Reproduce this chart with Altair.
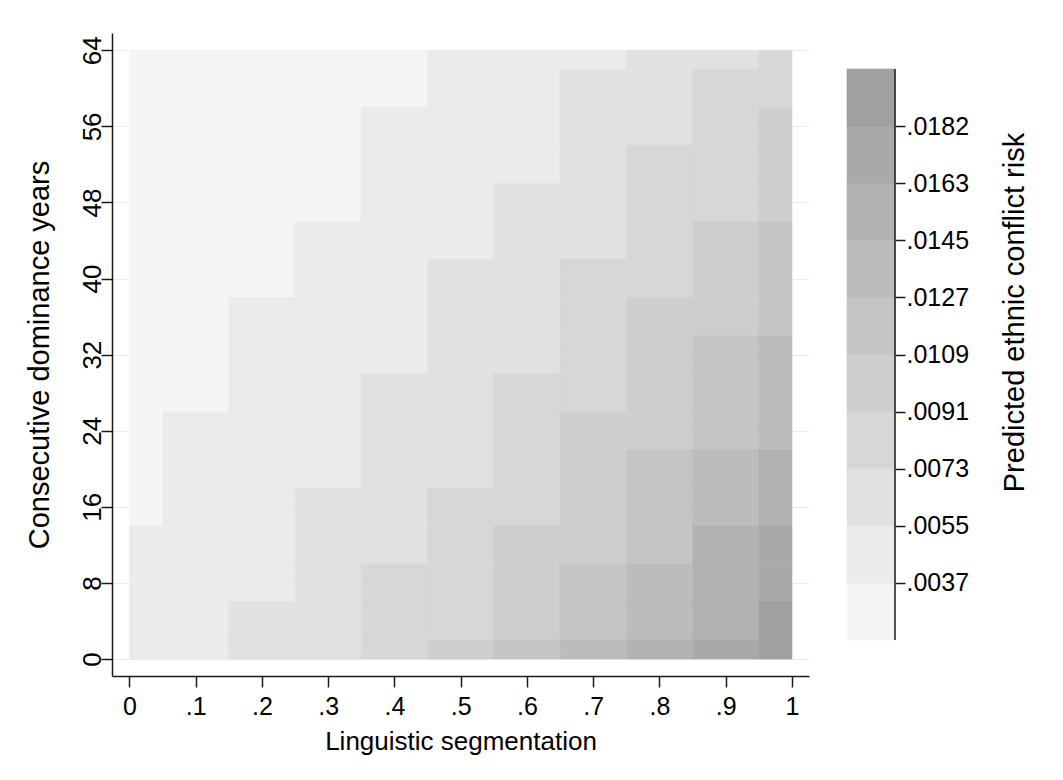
import json
import altair as alt
import pandas as pd

# ---- data ----
x_vals = [0.0, 0.1, 0.2, 0.3, 0.4, 0.5, 0.6, 0.7, 0.8, 0.9, 1.0]
y_vals = [64, 60, 56, 52, 48, 44, 40, 36, 32, 28, 24, 20, 16, 12, 8, 4, 0]
# contour band (1 = lowest risk ... 10 = highest) for each row (y) and column (x)
levels = [
    [1, 1, 1, 1, 1, 2, 2, 2, 3, 3, 4],   # 64
    [1, 1, 1, 1, 1, 2, 2, 3, 3, 4, 4],   # 60
    [1, 1, 1, 1, 2, 2, 2, 3, 3, 4, 5],   # 56
    [1, 1, 1, 1, 2, 2, 2, 3, 4, 4, 5],   # 52
    [1, 1, 1, 1, 2, 2, 3, 3, 4, 4, 5],   # 48
    [1, 1, 1, 2, 2, 2, 3, 3, 4, 5, 6],   # 44
    [1, 1, 1, 2, 2, 3, 3, 4, 4, 5, 6],   # 40
    [1, 1, 2, 2, 2, 3, 3, 4, 5, 5, 6],   # 36
    [1, 1, 2, 2, 2, 3, 3, 4, 5, 6, 7],   # 32
    [1, 1, 2, 2, 3, 3, 4, 4, 5, 6, 7],   # 28
    [1, 2, 2, 2, 3, 3, 4, 5, 5, 6, 7],   # 24
    [1, 2, 2, 2, 3, 3, 4, 5, 6, 7, 8],   # 20
    [1, 2, 2, 3, 3, 4, 4, 5, 6, 7, 8],   # 16
    [2, 2, 2, 3, 3, 4, 5, 5, 6, 8, 9],   # 12
    [2, 2, 2, 3, 4, 4, 5, 6, 7, 8, 9],   # 8
    [2, 2, 3, 3, 4, 4, 5, 6, 7, 8, 10],  # 4
    [2, 2, 3, 3, 4, 5, 6, 7, 8, 9, 10],  # 0
]
band_ids = [1, 2, 3, 4, 5, 6, 7, 8, 9, 10]
band_cuts = [0.00185, 0.00366, 0.00547, 0.00729, 0.00910, 0.01091,
             0.01272, 0.01453, 0.01634, 0.01816, 0.01997]
legend_tick_values = band_cuts[1:-1]
legend_tick_labels = [".0037", ".0055", ".0073", ".0091", ".0109",
                      ".0127", ".0145", ".0163", ".0182"]
x_tick_labels = ["0", ".1", ".2", ".3", ".4", ".5", ".6", ".7", ".8", ".9", "1"]
y_ticks = [0, 8, 16, 24, 32, 40, 48, 56, 64]

# ---- style ----
grays = ["#f5f5f5", "#ebebeb", "#e1e1e1", "#d7d7d7", "#cecece",
         "#c5c5c5", "#bcbcbc", "#b2b2b2", "#a9a9a9", "#a0a0a0"]
FONT = "Liberation Sans"
INK = "#1a1a1a"
MAIN_W, MAIN_H = 697, 643
LEG_W = 48
NO_FRAME = alt.ViewBackground(stroke="transparent", strokeWidth=0)

rows = []
for yi, y in enumerate(y_vals):
    for xi, x in enumerate(x_vals):
        rows.append({"x": x, "y": y, "level": levels[yi][xi]})
df = pd.DataFrame(rows)

color_scale = alt.Scale(domain=band_ids, range=grays)

x_expr = f"{json.dumps(x_tick_labels)}[indexof({json.dumps(x_vals)}, datum.value)]"
leg_expr = f"{json.dumps(legend_tick_labels)}[indexof({json.dumps(legend_tick_values)}, datum.value)]"

heat = (
    alt.Chart(df)
    .transform_calculate(
        x0="max(datum.x - 0.05, 0)",
        x1="min(datum.x + 0.05, 1)",
        y0="max(datum.y - 2, 0)",
        y1="min(datum.y + 2, 64)",
    )
    .mark_rect(strokeWidth=0.6)
    .encode(
        x=alt.X(
            "x0:Q",
            scale=alt.Scale(domain=[-0.0264, 1.0257], nice=False, zero=False),
            axis=alt.Axis(
                values=x_vals, labelExpr=x_expr, grid=False,
                tickSize=11, tickWidth=1.5, tickColor=INK,
                domainColor=INK, domainWidth=1.5,
                labelFontSize=25, labelPadding=7, labelColor="black",
                labelFont=FONT,
                title="Linguistic segmentation", titleFontSize=26,
                titleFont=FONT, titleFontWeight="normal", titleColor="black",
                titleBaseline="alphabetic", titleY=73,
            ),
        ),
        x2="x1:Q",
        y=alt.Y(
            "y0:Q",
            scale=alt.Scale(domain=[-1.79, 65.82], nice=False, zero=False),
            axis=alt.Axis(
                values=y_ticks, grid=True, gridColor="#ebebeb", gridWidth=1.2,
                tickSize=11, tickWidth=1.5, tickColor=INK,
                domainColor=INK, domainWidth=1.5,
                labelFontSize=26, labelAngle=270, labelAlign="center",
                labelBaseline="alphabetic", labelPadding=1,
                labelColor="black", labelFont=FONT,
                title="Consecutive dominance years", titleFontSize=29,
                titleFont=FONT, titleFontWeight="normal", titleColor="black",
                titleAngle=270, titleAlign="center", titleBaseline="alphabetic",
                titleX=-64, titleY=MAIN_H / 2,
            ),
        ),
        y2="y1:Q",
        color=alt.Color("level:O", scale=color_scale, legend=None),
        stroke=alt.Stroke("level:O", scale=color_scale, legend=None),
    )
    .properties(width=MAIN_W, height=MAIN_H, view=NO_FRAME)
)

# colour bar (legend) built from the same bands
leg_df = pd.DataFrame({
    "lo": band_cuts[:-1], "hi": band_cuts[1:], "level": band_ids,
    "x0": [0] * len(band_ids), "x1": [1] * len(band_ids),
})
px_per_unit = 571 / (band_cuts[-1] - band_cuts[0])
leg_domain = [band_cuts[0] - 36 / px_per_unit, band_cuts[-1] + 36 / px_per_unit]

leg_axis = alt.Axis(
    orient="right", values=legend_tick_values, labelExpr=leg_expr,
    domain=False, grid=False, tickSize=10, tickWidth=1.5, tickColor=INK,
    labelFontSize=25, labelPadding=1, labelColor="black", labelFont=FONT,
    labelBaseline="middle",
    title="Predicted ethnic conflict risk", titleFontSize=29,
    titleFont=FONT, titleFontWeight="normal", titleColor="black",
    titleAngle=270, titleAlign="center", titleBaseline="alphabetic",
    titleX=128, titleY=279,
)

bar = alt.Chart(leg_df).mark_rect(strokeWidth=0.6).encode(
    x=alt.X("x0:Q", scale=alt.Scale(domain=[0, 1], nice=False), axis=None),
    x2="x1:Q",
    y=alt.Y("lo:Q", scale=alt.Scale(domain=leg_domain, nice=False, zero=False),
            axis=leg_axis),
    y2="hi:Q",
    color=alt.Color("level:O", scale=color_scale, legend=None),
    stroke=alt.Stroke("level:O", scale=color_scale, legend=None),
)

rule_df = pd.DataFrame({"x": [1], "lo": [band_cuts[0]], "hi": [band_cuts[-1]]})
bar_line = alt.Chart(rule_df).mark_rule(color=INK, strokeWidth=1.5).encode(
    x=alt.X("x:Q", axis=None),
    y=alt.Y("lo:Q", axis=leg_axis),
    y2="hi:Q",
)

legend = alt.layer(bar, bar_line).properties(
    width=LEG_W, height=MAIN_H, view=NO_FRAME
)

chart = (
    alt.hconcat(heat, legend, spacing=37)
    .properties(padding={"left": 17, "top": 25, "right": 5, "bottom": 5},
                background="white")
    .configure_view(strokeWidth=0, stroke="transparent")
    .configure(font=FONT)
)

chart.save("out.html", embed_options={"renderer": "svg", "actions": False})
